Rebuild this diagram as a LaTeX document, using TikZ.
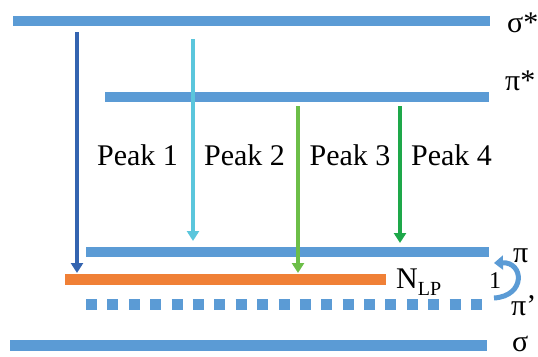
\documentclass[tikz,border=0pt]{standalone}
\usepackage{fontspec}
\setmainfont{Liberation Serif}
\usetikzlibrary{arrows.meta}
\definecolor{barblue}{HTML}{5B9BD5}
\definecolor{darkblue}{HTML}{3464B0}
\definecolor{cyanarrow}{HTML}{5BC6DC}
\definecolor{lightgreen}{HTML}{6CBE48}
\definecolor{darkgreen}{HTML}{1EA84A}
\definecolor{orangebar}{HTML}{F08036}
\tikzset{
  level/.style={line width=10.5pt, barblue},
  trans/.style={line width=4pt, -{Triangle[length=10pt,width=12pt]}},
  lbl/.style={inner sep=0pt, anchor=base west, font=\fontsize{30}{36}\selectfont},
  peak/.style={inner sep=0pt, anchor=base, font=\fontsize{30}{36}\selectfont},
}
\begin{document}
\begin{tikzpicture}[x=1pt,y=-1pt]
\useasboundingbox (0,0) rectangle (538,356);
% levels
\draw[level] (13,21) -- (490,21);
\draw[level] (105,97) -- (489,97);
\draw[level] (86,252) -- (489,252);
\draw[line width=11pt, orangebar] (65,279.5) -- (386,279.5);
\draw[line width=11pt, barblue, dash pattern=on 11pt off 10.39pt] (86,304) -- (482,304);
\draw[level] (10,345.5) -- (487,345.5);
% transitions
\coordinate (a1s) at (77,32);  \coordinate (a1e) at (77,273);
\coordinate (a2s) at (193,39); \coordinate (a2e) at (193,241);
\coordinate (a3s) at (298,106); \coordinate (a3e) at (298,273);
\coordinate (a4s) at (400,106); \coordinate (a4e) at (400,243);
\draw[trans, darkblue] (a1s) -- (a1e);
\draw[trans, cyanarrow] (a2s) -- (a2e);
\draw[trans, lightgreen] (a3s) -- (a3e);
\draw[trans, darkgreen] (a4s) -- (a4e);
% peak labels
\node[peak] (p1) at (137.5,165) {Peak 1};
\node[peak] (p2) at (244.5,165) {Peak 2};
\node[peak] (p3) at (350,165) {Peak 3};
\node[peak] (p4) at (451.5,165) {Peak 4};
% level labels
\node[lbl] (ls) at (507,32) {σ*};
\node[lbl] (lp) at (505,90) {π*};
\node[lbl] (lpi) at (513,262) {π};
\node[lbl] (lpp) at (511,315) {π’};
\node[lbl] (lsig) at (512,351) {σ};
\node[lbl] (nlp) at (396,288) {N\fontsize{20}{24}\selectfont\raisebox{-7pt}{LP}};
\node[inner sep=0pt, anchor=base west, font=\fontsize{24}{28}\selectfont] (one) at (489,288) {1};
% curved arrow
\coordinate (cs) at (494,298);
\coordinate (ce) at (494,263);
\draw[line width=5pt, barblue, -{Triangle[length=9pt,width=14pt]}] (cs) .. controls (526,296) and (524,262) .. (ce);
\end{tikzpicture}
\end{document}
